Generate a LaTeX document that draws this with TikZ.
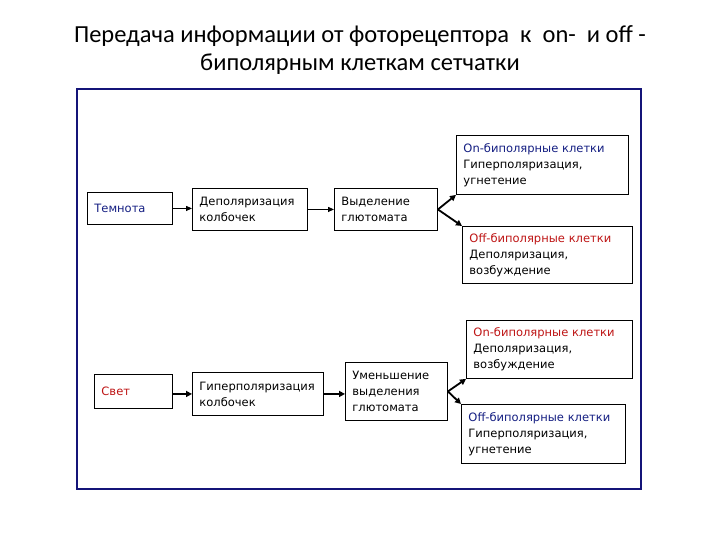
\documentclass[tikz,border=0pt]{standalone}
\usepackage{fontspec}
\setmainfont{Carlito}
\newfontfamily\boxfont{DejaVu Sans}
\usetikzlibrary{arrows.meta}
\definecolor{navy}{RGB}{20,20,120}
\definecolor{txtblue}{RGB}{20,30,130}
\definecolor{txtred}{RGB}{190,20,20}
\tikzset{
  cell/.style={draw=black, line width=0.9pt, anchor=north west, inner xsep=7pt, inner ysep=0pt,
    align=left, font=\boxfont\fontsize{11.5}{16}\selectfont, text=black},
  arr/.style={line width=1.1pt, -{Triangle[length=6pt,width=5pt]}},
  arrb/.style={line width=1.8pt, -{Triangle[length=6pt,width=6pt]}},
}
\begin{document}
\begin{tikzpicture}[x=1pt,y=-1pt]
\useasboundingbox (0,0) rectangle (720,540);
\fill[white] (0,0) rectangle (720,540);
\node[font=\fontsize{24.5}{28}\selectfont, align=center, anchor=north, inner sep=0pt] (title) at (360,25)
  {Передача информации от фоторецептора\ \ к\ \ on-\ \ и off -\\биполярным клеткам сетчатки};
\draw[navy, line width=2.4pt] (77,89) rectangle (641,489);
\coordinate (frame) at (77,89);
% row 1
\node[cell, minimum width=85pt, minimum height=32pt, text width=71pt] (tem) at (87,192) {\textcolor{txtblue}{Темнота}};
\node[cell, minimum width=115pt, minimum height=42pt, text width=101pt] (dep) at (192,188) {Деполяризация\\колбочек};
\node[cell, minimum width=103pt, minimum height=42pt, text width=89pt] (vyd) at (334,188) {Выделение\\глютомата};
\node[cell, minimum width=172pt, minimum height=59pt, text width=158pt] (on1) at (456,135) {\textcolor{txtblue}{On-биполярные клетки}\\Гиперполяризация,\\угнетение};
\node[cell, minimum width=170pt, minimum height=57pt, text width=156pt] (off1) at (462,226) {\textcolor{txtred}{Off-биполярные клетки}\\Деполяризация,\\возбуждение};
% row 2
\node[cell, minimum width=78pt, minimum height=34pt, text width=64pt] (svet) at (94,374) {\textcolor{txtred}{Свет}};
\node[cell, minimum width=131pt, minimum height=43pt, text width=117pt] (gip) at (192,372) {Гиперполяризация\\колбочек};
\node[cell, minimum width=102pt, minimum height=58pt, text width=88pt] (umen) at (345,362) {Уменьшение\\выделения\\глютомата};
\node[cell, minimum width=166pt, minimum height=58pt, text width=152pt] (on2) at (466,320) {\textcolor{txtred}{On-биполярные клетки}\\Деполяризация,\\возбуждение};
\node[cell, minimum width=164pt, minimum height=59pt, text width=150pt] (off2) at (461,404) {\textcolor{txtblue}{Off-биполярные клетки}\\Гиперполяризация,\\угнетение};
% connectors
\draw[arr] (tem.east) -- (tem.east -| dep.west);
\draw[arr] (dep.east) -- (vyd.west);
\draw[arrb] (vyd.east) -- (on1.south west);
\draw[arrb] (vyd.east) -- (off1.north west);
\draw[arrb] (svet.east |- gip.west) -- (gip.west);
\draw[arrb] (gip.east) -- (gip.east -| umen.west);
\draw[arrb] (umen.east) -- (on2.south west);
\draw[arrb] (umen.east) -- (off2.north west);
\end{tikzpicture}
\end{document}
